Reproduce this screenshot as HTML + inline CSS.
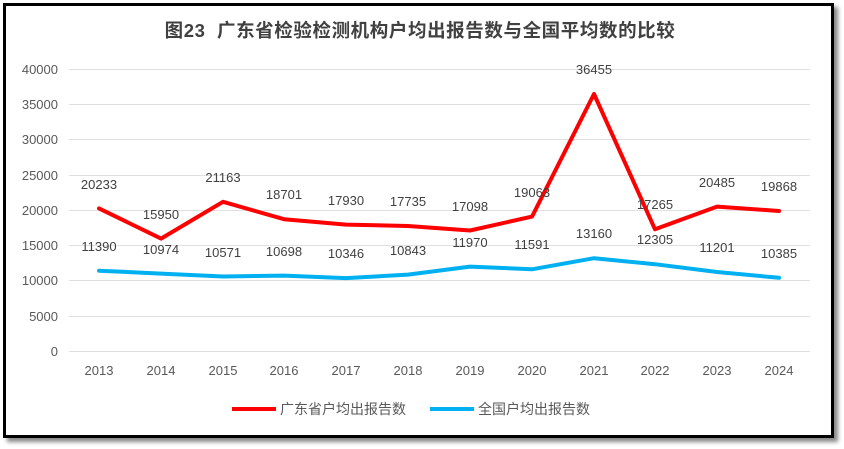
<!DOCTYPE html>
<html><head><meta charset="utf-8"><style>
html,body{margin:0;padding:0;background:#fff;}
body{width:844px;height:449px;position:relative;overflow:hidden;font-family:"Liberation Sans","Noto Sans CJK SC",sans-serif;}
.frame{position:absolute;left:3px;top:3px;width:825px;height:429px;border:3px solid #000;box-shadow:4px 4px 4px #888;background:#fff;}
svg{position:absolute;left:0;top:0;}
</style></head><body>
<div class="frame"></div>
<svg width="844" height="449" viewBox="0 0 844 449" font-family="Liberation Sans, Noto Sans CJK SC, sans-serif">
<text x="420" y="37" text-anchor="middle" font-size="18.5" font-weight="bold" fill="#404040" letter-spacing="0.6">图23&#160;&#160;广东省检验检测机构户均出报告数与全国平均数的比较</text>
<g stroke="#e0e0e0" stroke-width="1">
<line x1="69" x2="810" y1="69.5" y2="69.5"/><line x1="69" x2="810" y1="104.5" y2="104.5"/>
<line x1="69" x2="810" y1="139.5" y2="139.5"/><line x1="69" x2="810" y1="175.5" y2="175.5"/>
<line x1="69" x2="810" y1="210.5" y2="210.5"/><line x1="69" x2="810" y1="245.5" y2="245.5"/>
<line x1="69" x2="810" y1="280.5" y2="280.5"/><line x1="69" x2="810" y1="316.5" y2="316.5"/>
<line x1="69" x2="810" y1="351.5" y2="351.5"/>
</g>
<g font-size="13" fill="#595959" text-anchor="end">
<text x="58" y="74">40000</text><text x="58" y="109">35000</text><text x="58" y="144">30000</text>
<text x="58" y="180">25000</text><text x="58" y="215">20000</text><text x="58" y="250">15000</text>
<text x="58" y="285">10000</text><text x="58" y="321">5000</text><text x="58" y="356">0</text>
</g>
<g font-size="13" fill="#595959" text-anchor="middle">
<text x="99" y="375">2013</text><text x="161" y="375">2014</text><text x="223" y="375">2015</text>
<text x="284" y="375">2016</text><text x="346" y="375">2017</text><text x="408" y="375">2018</text>
<text x="470" y="375">2019</text><text x="532" y="375">2020</text><text x="594" y="375">2021</text>
<text x="655" y="375">2022</text><text x="717" y="375">2023</text><text x="779" y="375">2024</text>
</g>
<polyline fill="none" stroke="#ff0000" stroke-width="4" stroke-linejoin="round" stroke-linecap="round" points="99,208.4 161,238.6 223,201.8 284,219.2 346,224.6 408,226 470,230.5 532,216.6 594,94 655,229.3 717,206.6 779,211"/>
<polyline fill="none" stroke="#00b0f0" stroke-width="4" stroke-linejoin="round" stroke-linecap="round" points="99,270.7 161,273.6 223,276.5 284,275.6 346,278.1 408,274.6 470,266.6 532,269.3 594,258.2 655,264.2 717,272 779,277.8"/>
<g font-size="13" fill="#404040" text-anchor="middle">
<text x="99" y="189">20233</text><text x="161" y="219">15950</text><text x="223" y="182">21163</text>
<text x="284" y="199">18701</text><text x="346" y="205">17930</text><text x="408" y="206">17735</text>
<text x="470" y="211">17098</text><text x="532" y="197">19063</text><text x="594" y="74">36455</text>
<text x="655" y="209">17265</text><text x="717" y="187">20485</text><text x="779" y="191">19868</text>
<text x="99" y="251">11390</text><text x="161" y="254">10974</text><text x="223" y="257">10571</text>
<text x="284" y="256">10698</text><text x="346" y="258">10346</text><text x="408" y="255">10843</text>
<text x="470" y="247">11970</text><text x="532" y="249">11591</text><text x="594" y="238">13160</text>
<text x="655" y="244">12305</text><text x="717" y="252">11201</text><text x="779" y="258">10385</text>
</g>
<line x1="232" x2="276" y1="409" y2="409" stroke="#ff0000" stroke-width="4"/>
<text x="280" y="414" font-size="14" fill="#595959">广东省户均出报告数</text>
<line x1="430" x2="474" y1="409" y2="409" stroke="#00b0f0" stroke-width="4"/>
<text x="478" y="414" font-size="14" fill="#595959">全国户均出报告数</text>
</svg>
</body></html>
